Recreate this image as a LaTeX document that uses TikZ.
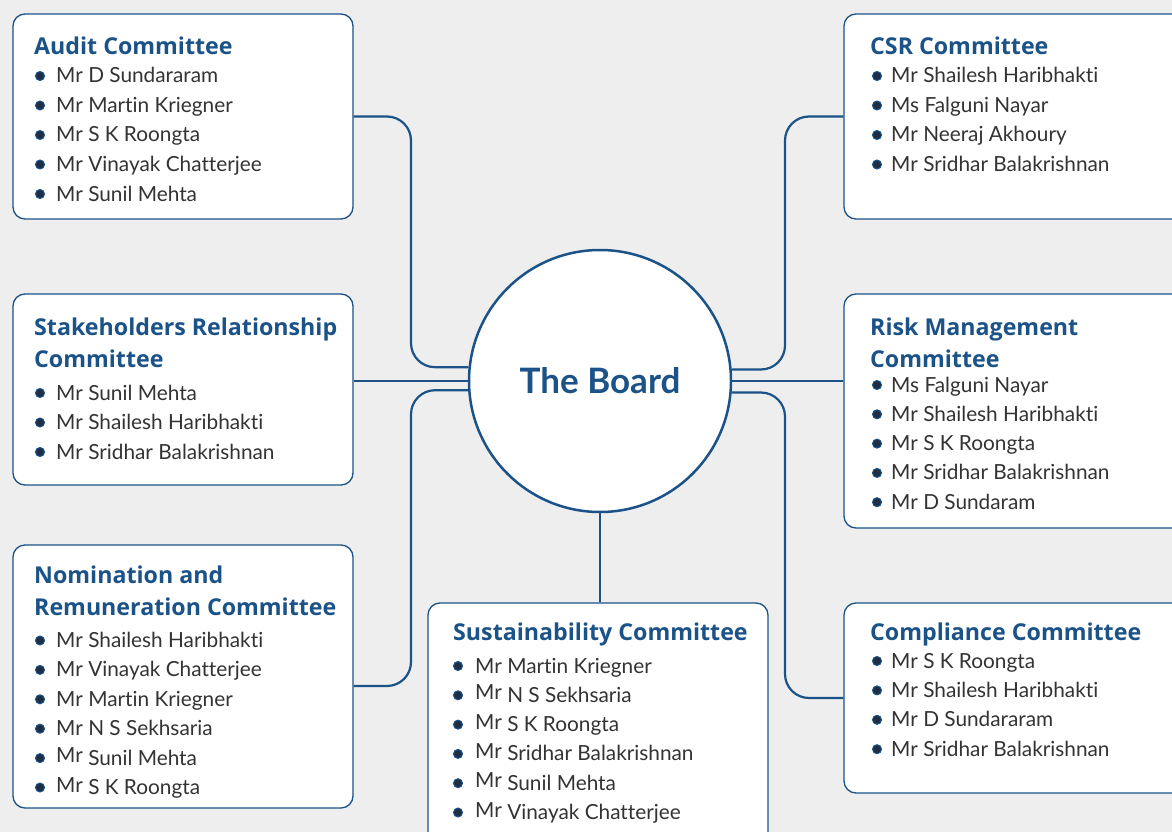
\documentclass[tikz,border=0pt]{standalone}
\usepackage{fontspec}
\setmainfont{Lato}[Ligatures={NoCommon}]
\newfontfamily\ttlfont{Open Sans}
\usetikzlibrary{calc}
\definecolor{tsblue}{HTML}{1B5287}
\definecolor{bg}{HTML}{EEEEEE}
\definecolor{txt}{HTML}{333333}
\definecolor{dot}{HTML}{1E2F45}
\tikzset{
 box/.style={draw=tsblue, line width=1.3pt, fill=white, rounded corners=12pt, inner sep=0},
 conn/.style={draw=tsblue, line width=2.2pt, rounded corners=24pt},
 ttl/.style={anchor=base west, inner sep=0, font=\ttlfont\fontsize{23.2}{27}\bfseries\selectfont, text=tsblue},
 mem/.style={anchor=base west, inner sep=0, font=\fontsize{20.8}{24}\selectfont, text=txt},
 bul/.style={circle, fill=dot, draw=tsblue, line width=1pt, minimum size=9pt, inner sep=0},
}
\newcommand\rmr{\raisebox{2.5pt}{Mr}}
\newcommand\memlist[6]{\foreach \t [count=\i from 0] in {#6}{%
  \node[bul] (#1b\i) at ({#2},{#4+#5*\i-7}) {};
  \node[mem] (#1t\i) at ({#3},{#4+#5*\i}) {\t};}}
\begin{document}
\begin{tikzpicture}[x=1pt,y=-1pt]
\useasboundingbox (0,0) rectangle (1172,832);
\fill[bg] (0,0) rectangle (1172,832);

% boxes
\node[box, minimum width=340pt, minimum height=205pt] (audit) at (183,116.5) {};
\node[box, minimum width=346pt, minimum height=205pt] (csr) at (1017,116.5) {};
\node[box, minimum width=340pt, minimum height=191pt] (stake) at (183,389.5) {};
\node[box, minimum width=346pt, minimum height=234pt] (risk) at (1017,411) {};
\node[box, minimum width=340pt, minimum height=263pt] (nom) at (183,676.5) {};
\node[box, minimum width=340pt, minimum height=247pt] (sust) at (598,726.5) {};
\node[box, minimum width=346pt, minimum height=190pt] (comp) at (1017,698) {};

% centre
\node[circle, draw=tsblue, line width=2.5pt, fill=white, minimum size=262pt, inner sep=0,
  font=\fontsize{35}{40}\bfseries\selectfont, text=tsblue] (board) at (600,381) {The Board};

% connectors
\coordinate (lbus) at (411,0);
\coordinate (rbus) at (785,0);
\draw[conn] (audit.east) -| (lbus |- board.174.5) -- (board.174.5);
\draw[conn] (csr.west) -| (rbus |- board.5.5) -- (board.5.5);
\draw[conn] (board.184.5) -| (lbus |- 0,686) -- (nom.east |- 0,686);
\draw[conn] (board.355.5) -| (rbus |- comp.west) -- (comp.west);
\draw[conn] (board.west) -- (board.west -| stake.east);
\draw[conn] (board.east) -- (board.east -| risk.west);
\draw[conn] (board.south) -- (board.south |- sust.north);

% Audit
\node[ttl] (auditT) at (34,55) {Audit Committee};
\memlist{au}{40}{56}{83}{29.5}{Mr D Sundararam,Mr Martin Kriegner,Mr S K Roongta,Mr Vinayak Chatterjee,Mr Sunil Mehta}

% Stakeholders
\node[ttl] (stakeT1) at (34,335) {Stakeholders Relationship};
\node[ttl] (stakeT2) at (34,367) {Committee};
\memlist{st}{40}{56}{400}{29.5}{Mr Sunil Mehta,Mr Shailesh Haribhakti,Mr Sridhar Balakrishnan}

% Nomination
\node[ttl] (nomT1) at (34,583) {Nomination and};
\node[ttl] (nomT2) at (34,615) {Remuneration Committee};
\memlist{no}{40}{56}{647.5}{29.4}{Mr Shailesh Haribhakti,Mr Vinayak Chatterjee,Mr Martin Kriegner,Mr N S Sekhsaria,{\rmr{} Sunil Mehta},{\rmr{} S K Roongta}}

% CSR
\node[ttl] (csrT) at (870,55) {CSR Committee};
\memlist{cs}{877}{891}{83}{29.5}{Mr Shailesh Haribhakti,Ms Falguni Nayar,Mr Neeraj Akhoury,Mr Sridhar Balakrishnan}

% Risk
\node[ttl] (riskT1) at (870,335) {Risk Management};
\node[ttl] (riskT2) at (870,367) {Committee};
\memlist{ri}{877}{891}{392}{29.3}{Ms Falguni Nayar,Mr Shailesh Haribhakti,Mr S K Roongta,Mr Sridhar Balakrishnan,Mr D Sundaram}

% Sustainability
\node[ttl] (sustT) at (453,640) {Sustainability Committee};
\memlist{su}{458}{475}{673}{29.3}{Mr Martin Kriegner,{\rmr{} N S Sekhsaria},{\rmr{} S K Roongta},{\rmr{} Sridhar Balakrishnan},{\rmr{} Sunil Mehta},{\rmr{} Vinayak Chatterjee}}

% Compliance
\node[ttl] (compT) at (870,640) {Compliance Committee};
\memlist{co}{877}{891}{668}{29.4}{Mr S K Roongta,Mr Shailesh Haribhakti,Mr D Sundararam,Mr Sridhar Balakrishnan}
\end{tikzpicture}
\end{document}
